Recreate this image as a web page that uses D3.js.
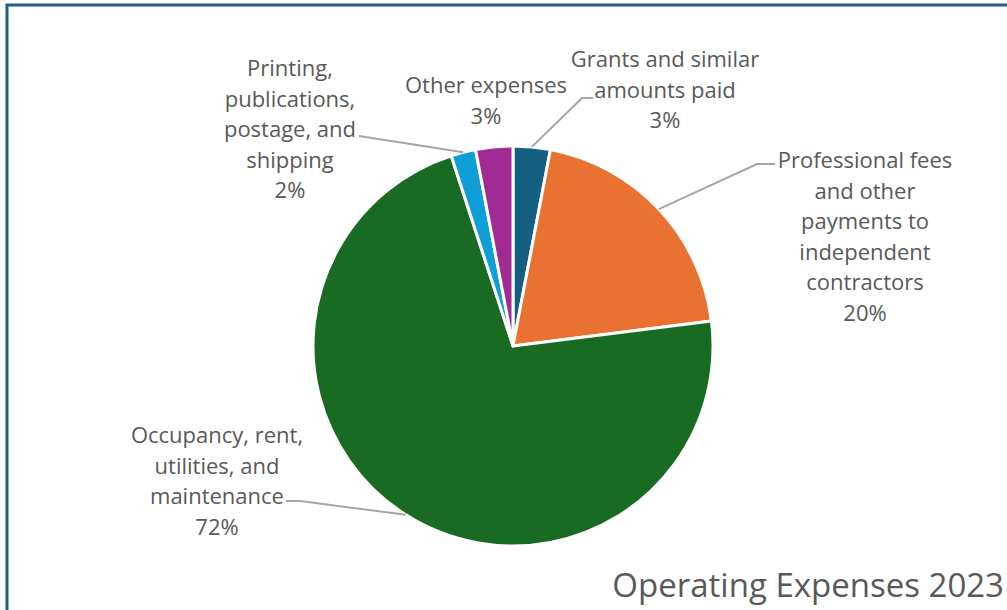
<!DOCTYPE html>
<html>
<head>
<meta charset="utf-8">
<script src="https://cdn.jsdelivr.net/npm/d3@7"></script>
<style>
body{margin:0;background:#fff;overflow:hidden;}
text{font-family:"Open Sans",sans-serif;fill:#595959;}
</style>
</head>
<body>
<script>
var w=1007;
var h=610;

// data
var categories=["Grants and similar amounts paid","Professional fees and other payments to independent contractors","Occupancy, rent, utilities, and maintenance","Printing, publications, postage, and shipping","Other expenses"];
var values=[3,20,72,2,3];
var labelLines=[
	["Grants and similar","amounts paid"],
	["Professional fees","and other","payments to","independent","contractors"],
	["Occupancy, rent,","utilities, and","maintenance"],
	["Printing,","publications,","postage, and","shipping"],
	["Other expenses"]
];
var colors=["#156082","#e97132","#196b24","#0f9ed5","#a02b93"];

// label layout: centre x, first baseline, leader elbow points
var labelPos=[
	{x:665,y:67,elbow2:[582,98],elbow:[593,98]},
	{x:865,y:168,elbow2:[757,164],elbow:[775,164]},
	{x:217,y:443,elbow2:[300,501],elbow:[286,501]},
	{x:290,y:76,elbow2:[359,136],elbow:[359,136]},
	{x:486,y:93,elbow:null}
];

var cx=513, cy=346, r=200;
var lineH=30.5;

var svg=d3.select("body").append("svg")
	.attr("width",w)
	.attr("height",h);

// chart frame
svg.append("rect")
	.attr("x",7).attr("y",5)
	.attr("width",w+20).attr("height",h+20)
	.attr("fill","#fff")
	.attr("stroke","#1f5f86")
	.attr("stroke-width",3);

var pie=d3.pie().sort(null).value(function(d){return d;});
var arcs=pie(values);
var arc=d3.arc().innerRadius(0).outerRadius(r);

var g=svg.append("g").attr("transform","translate("+cx+","+cy+")");

g.selectAll("path")
	.data(arcs)
	.enter().append("path")
	.attr("d",arc)
	.attr("fill",function(d,i){return colors[i];})
	.attr("stroke","#fff")
	.attr("stroke-width",3)
	.attr("stroke-linejoin","round");

// leader lines start at slice mid point on the rim
arcs.forEach(function(a,i){
	var p=labelPos[i];
	if(!p.elbow) return;
	var m=(a.startAngle+a.endAngle)/2;
	var rim=[cx+Math.sin(m)*r, cy-Math.cos(m)*r];
	svg.append("polyline")
		.attr("points",[rim,p.elbow2,p.elbow].map(function(q){return q.join(",");}).join(" "))
		.attr("fill","none")
		.attr("stroke","#a6a6a6")
		.attr("stroke-width",2);
});

// labels
labelLines.forEach(function(lines,i){
	var p=labelPos[i];
	var t=svg.append("text")
		.attr("text-anchor","middle")
		.attr("font-size",22);
	lines.concat([values[i]+"%"]).forEach(function(s,k){
		t.append("tspan")
			.attr("x",p.x)
			.attr("y",p.y+k*lineH)
			.text(s);
	});
});

svg.append("text")
	.attr("x",1004)
	.attr("y",597)
	.attr("text-anchor","end")
	.attr("font-size",33)
	.text("Operating Expenses 2023");
</script>
</body>
</html>
